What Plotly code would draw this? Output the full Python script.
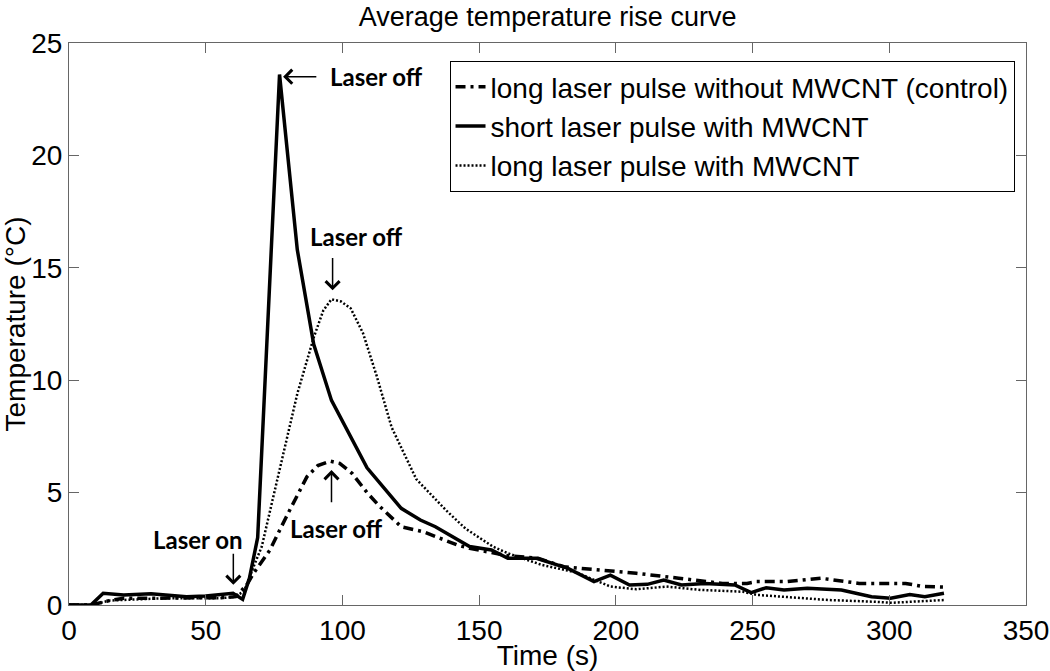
import plotly.graph_objects as go

font = {'family': 'Liberation Sans, Arial, sans-serif', 'size': 28, 'color': 'black'}
title_font = {'family': 'Liberation Sans, Arial, sans-serif', 'size': 27, 'color': 'black'}
note_font = {'family': 'Lato, Open Sans, sans-serif', 'size': 24, 'color': 'black'}

# long laser pulse without MWCNT (control)
t_ctrl = [0, 8, 15, 20, 30, 40, 50, 57, 61, 65, 67.5, 73.5, 79.5, 87, 91, 95.5, 99, 103.5, 109, 113.5,
          121.5, 129.5, 142, 146.5, 160.5, 171.5, 181, 195, 207.5, 223, 239, 248, 251.5, 262, 270, 275,
          289, 306, 312.5, 320]
temp_ctrl = [0, 0, 0.2, 0.3, 0.3, 0.3, 0.32, 0.33, 0.37, 0.89, 1.41, 2.45, 3.93, 5.7, 6.2, 6.4, 6.3, 5.86,
             5.0, 4.4, 3.48, 3.26, 2.67, 2.52, 2.19, 2.08, 1.7, 1.56, 1.41, 1.19, 0.96, 0.96, 1.04, 1.04,
             1.11, 1.19, 0.96, 0.96, 0.82, 0.8]

# short laser pulse with MWCNT
t_short = [0, 8, 12.5, 20, 30, 37, 43, 50, 56, 60, 63.5, 66, 69, 77, 83.5, 89.5, 96, 109, 121.5, 128.5,
           134, 146.5, 154.5, 160.5, 171, 182.5, 192, 198, 205, 211.5, 217.5, 224, 232.5, 243.5, 249.5,
           255, 261.5, 270, 282.5, 293.5, 300.5, 307.5, 313, 320]
temp_short = [0, 0, 0.52, 0.45, 0.5, 0.45, 0.37, 0.4, 0.47, 0.52, 0.25, 1.2, 3.0, 23.6, 15.8, 11.6, 9.1,
              6.1, 4.3, 3.78, 3.48, 2.6, 2.45, 2.08, 2.08, 1.63, 1.04, 1.33, 0.89, 0.92, 1.11, 0.89, 0.96,
              0.89, 0.55, 0.77, 0.67, 0.74, 0.67, 0.37, 0.3, 0.47, 0.37, 0.52]

# long laser pulse with MWCNT
t_long = [0, 8, 15, 25, 35, 45, 55, 60, 64, 67.5, 70.5, 74.5, 79, 83.5, 89.5, 93, 96, 99.5, 103, 107.5,
          112.5, 118, 127, 138, 145, 155, 160.5, 173, 185.5, 198, 207.5, 218.5, 231, 246.5, 251.5, 262,
          278, 293.5, 301, 320]
temp_long = [0, 0, 0.2, 0.25, 0.3, 0.3, 0.3, 0.35, 0.6, 1.7, 2.6, 4.7, 7.0, 9.4, 11.9, 13.1, 13.6, 13.5,
             13.2, 12.1, 10.2, 7.9, 5.6, 4.2, 3.4, 2.6, 2.3, 1.78, 1.45, 0.82, 0.7, 0.82, 0.67, 0.59, 0.45,
             0.37, 0.22, 0.15, 0.1, 0.22]

x_ticks = [0, 50, 100, 150, 200, 250, 300, 350]
y_ticks = [0, 5, 10, 15, 20, 25]

# (label x, label y, arrow tail x, tail y, head x, head y)
notes = [
    ('Laser off', 112.5, 23.5, 91, 23.5, 78.3, 23.5),
    ('Laser off', 105, 16.4, 96.4, 15.5, 96.4, 14.0),
    ('Laser off', 98, 3.4, 96, 4.5, 96, 6.0),
    ('Laser on', 47.3, 2.9, 60.1, 2.35, 60.1, 0.9),
]

fig = go.Figure()
fig.add_trace(go.Scatter(x=t_ctrl, y=temp_ctrl, mode='lines',
                         name='long laser pulse without MWCNT (control)',
                         line=dict(color='black', width=3.5, dash='10px,5px,3px,5px')))
fig.add_trace(go.Scatter(x=t_short, y=temp_short, mode='lines',
                         name='short laser pulse with MWCNT',
                         line=dict(color='black', width=3.5)))
fig.add_trace(go.Scatter(x=t_long, y=temp_long, mode='lines',
                         name='long laser pulse with MWCNT',
                         line=dict(color='black', width=2.5, dash='2px,2px')))

for text, tx, ty, ax, ay, hx, hy in notes:
    fig.add_annotation(x=tx, y=ty, text=f'<b>{text}</b>', showarrow=False, font=note_font)
    fig.add_annotation(x=hx, y=hy, ax=ax, ay=ay, axref='x', ayref='y', text='',
                       showarrow=True, arrowhead=4, arrowsize=1.8, arrowwidth=1.5,
                       arrowcolor='black', standoff=0)

axis_style = dict(showline=True, linecolor='#666666', linewidth=1, mirror='ticks',
                  ticks='inside', ticklen=10, tickcolor='#666666', showgrid=False,
                  zeroline=False, tickfont=font, automargin=False)

fig.update_layout(
    width=1050, height=671, autosize=False,
    margin=dict(l=69, r=24, t=43, b=66),
    paper_bgcolor='white', plot_bgcolor='white',
    font=font,
    title=dict(text='Average temperature rise curve', x=0.5215, xanchor='center',
               y=0.99, yanchor='top', font=title_font),
    legend=dict(x=0.988, xanchor='right', y=0.968, yanchor='top',
                bordercolor='black', borderwidth=1, bgcolor='white', font=font),
    xaxis=dict(axis_style, range=[0, 350], tickvals=x_ticks,
               title=dict(text='Time (s)', font=font, standoff=0)),
    yaxis=dict(axis_style, range=[0, 25], tickvals=y_ticks,
               title=dict(text='Temperature (°C)', font=font, standoff=4)),
)

fig.write_html('out.html', config={'displayModeBar': False},
               post_script="document.body.style.margin = '0px';")
